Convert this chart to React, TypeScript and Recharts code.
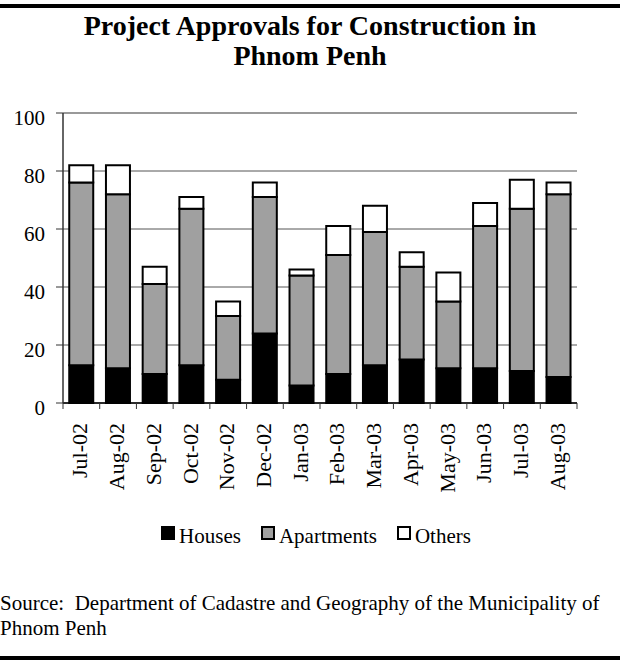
import React from "react";
import { BarChart, Bar, XAxis, YAxis, CartesianGrid, ReferenceLine } from "recharts";

const months = ["Jul-02", "Aug-02", "Sep-02", "Oct-02", "Nov-02", "Dec-02", "Jan-03", "Feb-03", "Mar-03", "Apr-03", "May-03", "Jun-03", "Jul-03", "Aug-03"];
const houses = [13, 12, 10, 13, 8, 24, 6, 10, 13, 15, 12, 12, 11, 9];
const apartments = [63, 60, 31, 54, 22, 47, 38, 41, 46, 32, 23, 49, 56, 63];
const others = [6, 10, 6, 4, 5, 5, 2, 10, 9, 5, 10, 8, 10, 4];
const yTicks = [0, 20, 40, 60, 80, 100];

const seriesNames = ["Houses", "Apartments", "Others"];
const seriesFills = ["#000000", "#a0a0a0", "#ffffff"];

const data = months.map((m, i) => ({ month: m, houses: houses[i], apartments: apartments[i], others: others[i] }));

const FONT = "'Liberation Serif', 'Times New Roman', serif";
const W = 620;
const H = 663;
const PLOT_LEFT = 63;
const PLOT_RIGHT = 577;
const BAND = (PLOT_RIGHT - PLOT_LEFT) / months.length;

const XTick = (props: any) => {
  const { x, y, payload, index } = props;
  const last = index === months.length - 1;
  return (
    <g>
      <line x1={x - BAND / 2} x2={x - BAND / 2} y1={y} y2={y + 6} stroke="#333" strokeWidth={1} />
      {last && <line x1={x + BAND / 2} x2={x + BAND / 2} y1={y} y2={y + 6} stroke="#333" strokeWidth={1} />}
      <text
        transform={`translate(${x + 6},${y + 20}) rotate(-90)`}
        textAnchor="end"
        fontSize={22}
        fontFamily={FONT}
        fill="#000"
      >
        {payload.value}
      </text>
    </g>
  );
};

const YTick = (props: any) => {
  const { x, y, payload } = props;
  return (
    <text x={x} y={y + 12} textAnchor="end" fontSize={21} fontFamily={FONT} fill="#000">
      {payload.value}
    </text>
  );
};

const swatch = (fill: string) => ({
  display: "inline-block",
  width: 10,
  height: 10,
  background: fill,
  border: "2px solid #000",
  marginRight: 4,
  position: "relative" as const,
  top: -3,
});

export default function App() {
  return (
    <div style={{ position: "absolute", left: 0, top: 0, width: W, height: H, background: "#fff", fontFamily: FONT, color: "#000" }}>
      <div style={{ position: "absolute", left: 0, top: 4, width: W, height: 4, background: "#000" }} />
      <div
        style={{
          position: "absolute",
          left: 0,
          top: 11,
          width: W,
          textAlign: "center",
          fontWeight: "bold",
          fontSize: 28,
          lineHeight: "30px",
        }}
      >
        Project Approvals for Construction in
        <br />
        Phnom Penh
      </div>
      <div style={{ position: "absolute", left: 0, top: 0 }}>
        <BarChart
          width={W}
          height={H}
          data={data}
          margin={{ top: 113, right: W - PLOT_RIGHT, bottom: 0, left: 0 }}
          barCategoryGap="17%"
        >
          <CartesianGrid vertical={false} stroke="#555" strokeWidth={1} />
          <XAxis
            dataKey="month"
            height={260}
            interval={0}
            axisLine={{ stroke: "#000", strokeWidth: 1.5 }}
            tickLine={false}
            tickSize={0}
            tickMargin={0}
            tick={<XTick />}
          />
          <YAxis
            domain={[0, 100]}
            ticks={yTicks}
            width={PLOT_LEFT}
            axisLine={{ stroke: "#333", strokeWidth: 1.5 }}
            tickLine={{ stroke: "#333" }}
            tickSize={7}
            tickMargin={11}
            tick={<YTick />}
            interval={0}
          />
          <YAxis
            yAxisId="r"
            orientation="right"
            width={0}
            domain={[0, 100]}
            tick={false}
            tickLine={false}
            axisLine={{ stroke: "#999", strokeWidth: 2 }}
          />
          <ReferenceLine y={100} stroke="#999" strokeWidth={2} />
          <Bar dataKey="houses" name={seriesNames[0]} stackId="a" fill={seriesFills[0]} stroke="#000" strokeWidth={2} isAnimationActive={false} />
          <Bar dataKey="apartments" name={seriesNames[1]} stackId="a" fill={seriesFills[1]} stroke="#000" strokeWidth={2} isAnimationActive={false} />
          <Bar dataKey="others" name={seriesNames[2]} stackId="a" fill={seriesFills[2]} stroke="#000" strokeWidth={2} isAnimationActive={false} />
        </BarChart>
      </div>
      <div
        style={{
          position: "absolute",
          left: 6,
          top: 524,
          width: W,
          display: "flex",
          justifyContent: "center",
          fontSize: 21,
          lineHeight: "24px",
          gap: 20,
        }}
      >
        {seriesNames.map((n, i) => (
          <span key={n} style={{ whiteSpace: "nowrap" }}>
            <span style={swatch(seriesFills[i])} />
            {n}
          </span>
        ))}
      </div>
      <div
        style={{
          position: "absolute",
          left: 0,
          top: 591,
          width: W,
          fontSize: 21,
          lineHeight: "25px",
          whiteSpace: "pre",
        }}
      >
        {"Source:  Department of Cadastre and Geography of the Municipality of\nPhnom Penh"}
      </div>
      <div style={{ position: "absolute", left: 0, top: 656, width: W, height: 4, background: "#000" }} />
    </div>
  );
}
